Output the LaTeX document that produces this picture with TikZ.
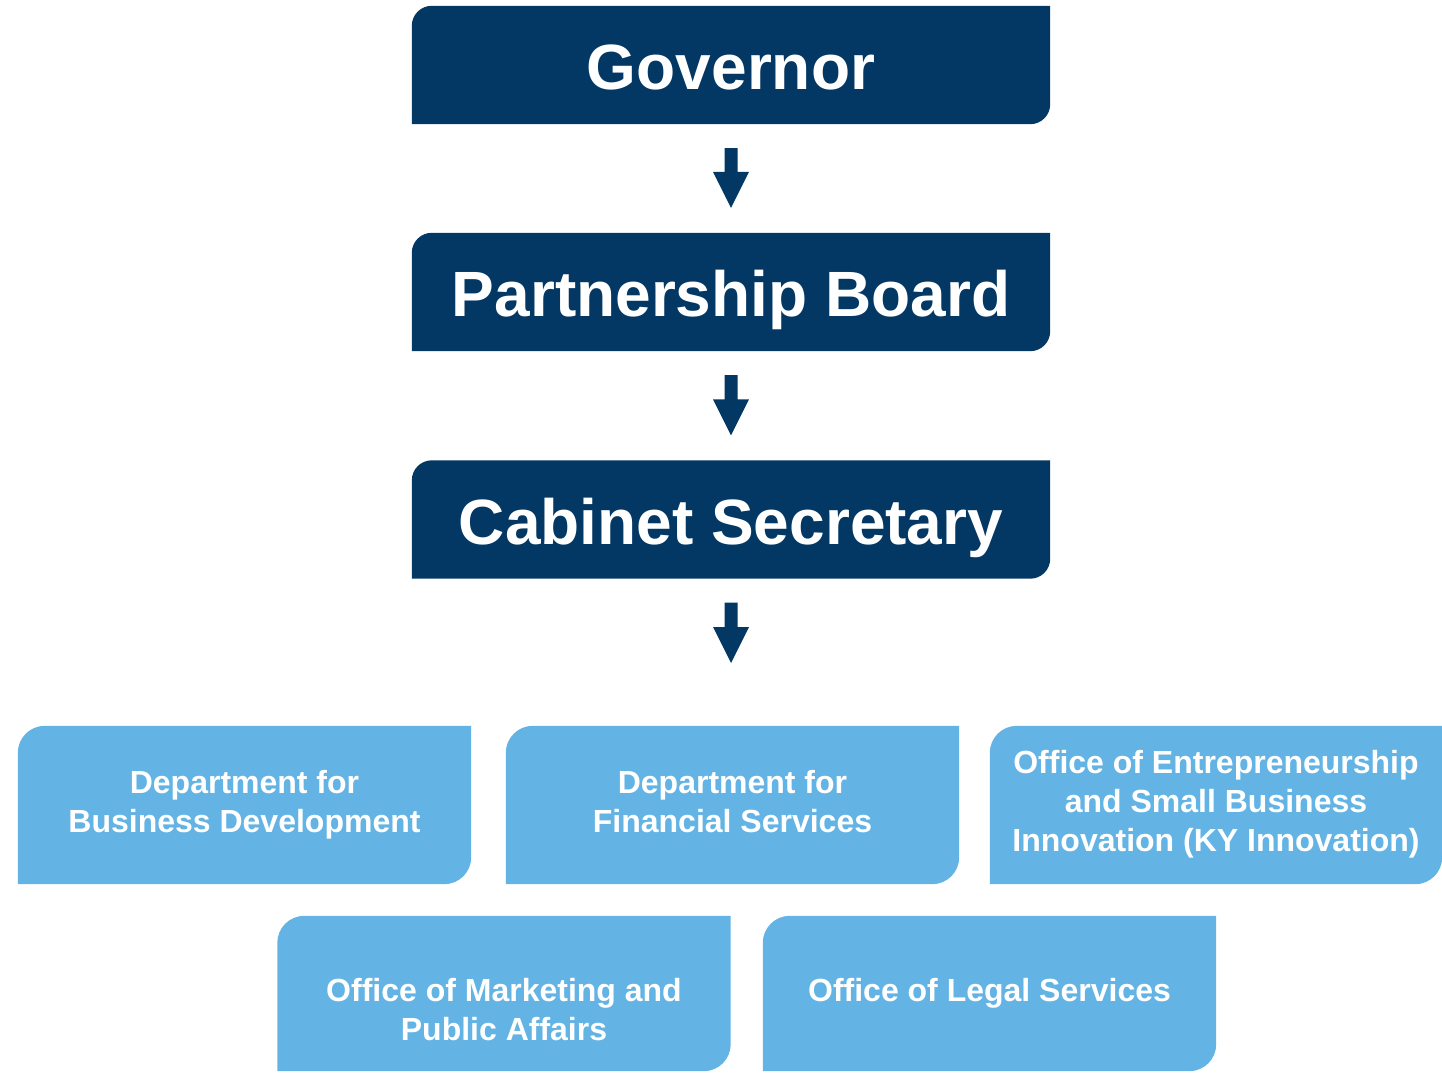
\documentclass[tikz,border=0pt]{standalone}
\usepackage{fontspec}
\setmainfont{Liberation Sans}
\usetikzlibrary{calc,backgrounds}
\definecolor{navy}{RGB}{3,56,100}
\definecolor{sky}{RGB}{99,180,228}
\newcommand\tlbrbox[3]{%
  \fill[#3] (#1.south west) -- ([yshift=-#2]#1.north west)
    arc[start angle=180,end angle=90,radius=#2] -- (#1.north east)
    -- ([yshift=#2]#1.south east) arc[start angle=0,end angle=-90,radius=#2] -- cycle;}
\newcommand\downarr[2]{%
  \fill[navy] ($(#1)+(-6.5,24)$) -- ($(#1)+(6.5,24)$) -- ($(#2)+(6.5,-36)$)
    -- ($(#2)+(18,-36)$) -- (#2) -- ($(#2)+(-18,-36)$) -- ($(#2)+(-6.5,-36)$) -- cycle;}
\begin{document}
\begin{tikzpicture}[x=1pt,y=-1pt,
  darkbox/.style={minimum width=638pt,minimum height=118pt,inner sep=0pt,text=white,
    text height=49.8pt,text depth=0pt,
    font=\fontsize{64}{76}\selectfont\bfseries},
  lightbox/.style={minimum width=453pt,minimum height=158pt,inner sep=0pt,text=white,
    align=center,font=\fontsize{32}{39}\selectfont\bfseries},
  lighttext/.style={inner sep=0pt,text=white,align=center,font=\fontsize{32}{39}\selectfont\bfseries}]
\useasboundingbox (0,0) rectangle (1442,1072);
\node[darkbox] (gov) at (731,65) {Governor};
\node[darkbox] (pb) at (731,292) {Partnership Board};
\node[darkbox] (cab) at (731,519.5) {Cabinet Secretary};
\node[lightbox] (dbd) at (244.5,805) {\strut Department for\\Business Development\strut};
\node[lightbox] (dfs) at (732.5,805) {\strut Department for\\Financial Services\strut};
\node[lightbox,minimum width=452pt] (oes) at (1216,805) {\strut Office of Entrepreneurship\\and Small Business\\Innovation (KY Innovation)\strut};
\node[lightbox,minimum height=155pt] (mkt) at (504,993.5) {};
\node[lighttext] (mktt) at ($(mkt.center)+(0,19.5)$) {\strut Office of Marketing and\\Public Affairs\strut};
\node[lightbox,minimum height=155pt] (legal) at (989.5,993.5) {\strut Office of Legal Services};
\coordinate (t1) at ($(pb.north)+(0,-25)$);
\coordinate (t2) at ($(cab.north)+(0,-25)$);
\coordinate (t3) at (731,663);
\begin{pgfonlayer}{background}
  \tlbrbox{gov}{20pt}{navy}
  \tlbrbox{pb}{20pt}{navy}
  \tlbrbox{cab}{20pt}{navy}
  \tlbrbox{dbd}{27pt}{sky}
  \tlbrbox{dfs}{27pt}{sky}
  \tlbrbox{oes}{27pt}{sky}
  \tlbrbox{mkt}{27pt}{sky}
  \tlbrbox{legal}{27pt}{sky}
\end{pgfonlayer}
\downarr{gov.south}{t1}
\downarr{pb.south}{t2}
\downarr{cab.south}{t3}
\end{tikzpicture}
\end{document}
